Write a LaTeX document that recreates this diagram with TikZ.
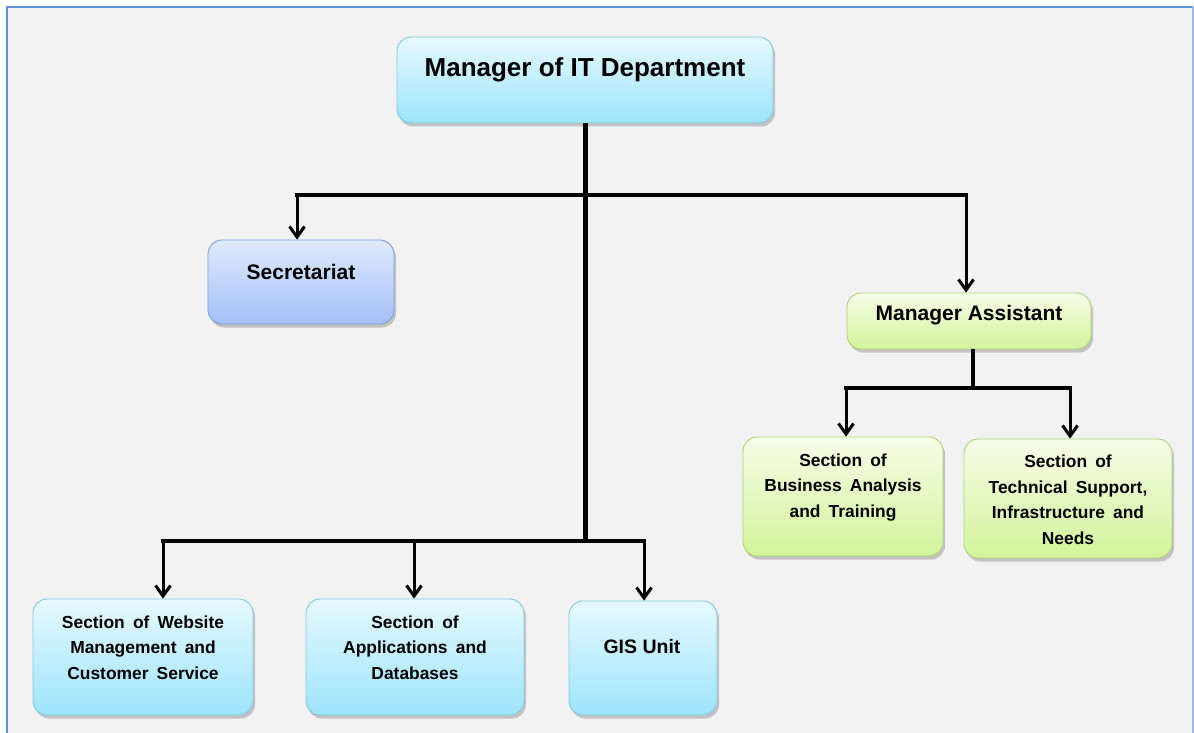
\documentclass[tikz,border=0pt]{standalone}
\usepackage{fontspec}
\setmainfont{Liberation Sans}
\usetikzlibrary{arrows.meta,shadows}

\definecolor{pagebg}{HTML}{F2F2F2}
\definecolor{framelc}{HTML}{5F92D8}
\definecolor{framerc}{HTML}{9DBBE6}
\definecolor{blueT}{HTML}{E6F9FE}
\definecolor{blueB}{HTML}{9DE4FB}
\definecolor{blueL}{HTML}{84C8E0}
\definecolor{secT}{HTML}{E0EAFC}
\definecolor{secB}{HTML}{A3C0F7}
\definecolor{secL}{HTML}{7C9ED8}
\definecolor{grnT}{HTML}{F6FDE8}
\definecolor{grnB}{HTML}{D3F39A}
\definecolor{grnL}{HTML}{AAD47A}

% wide word gap used in the section boxes
\newcommand{\wsp}{\hspace{0.47em}}

\tikzset{
  box/.style={rounded corners=14pt, line width=0.9pt, inner sep=0pt,
    drop shadow={shadow xshift=2pt, shadow yshift=-3.5pt, opacity=0.28, fill=black!70}},
  bluebox/.style={box, draw=blueL, top color=blueT, bottom color=blueB},
  secbox/.style={box, draw=secL, top color=secT, bottom color=secB},
  grnbox/.style={box, draw=grnL, top color=grnT, bottom color=grnB},
  lbl/.style={inner sep=0pt, align=center, text=black},
  bigtxt/.style={lbl, font=\bfseries\fontsize{26}{31}\selectfont},
  midtxt/.style={lbl, font=\bfseries\fontsize{21}{25}\selectfont},
  smalltxt/.style={lbl, anchor=north, font=\bfseries\fontsize{17.4}{25.5}\selectfont},
  lineshadow/.style={preaction={draw=black!22, transform canvas={shift={(1.2pt,-1.6pt)}}}},
  trunk/.style={line width=5pt, lineshadow},
  bus/.style={line width=4pt, line cap=rect, lineshadow},
  arr/.style={line width=3pt, lineshadow, -{Straight Barb[length=10.5pt,width=15pt]}},
}

\begin{document}
\begin{tikzpicture}[x=1pt,y=-1pt]
\useasboundingbox (0,0) rectangle (1194,733);
% page and frame
\fill[white] (0,0) rectangle (1194,733);
\fill[pagebg] (7,7) rectangle (1193,733);
\draw[framelc, line width=2pt] (7,733) -- (7,7) -- (1193,7);
\draw[framerc, line width=2pt] (1193,7) -- (1193,733);

% boxes
\node[bluebox, minimum width=376pt, minimum height=86pt] (top) at (585,80) {};
\node[secbox, minimum width=186pt, minimum height=84pt] (sec) at (301,282) {};
\node[grnbox, minimum width=244pt, minimum height=56pt] (ma) at (969,321) {};
\node[grnbox, minimum width=200pt, minimum height=119pt] (ba) at (843,496.5) {};
\node[grnbox, minimum width=208pt, minimum height=119pt] (ts) at (1068,498.5) {};
\node[bluebox, minimum width=220pt, minimum height=116pt] (web) at (143,657) {};
\node[bluebox, minimum width=218pt, minimum height=116pt] (app) at (415,657) {};
\node[bluebox, minimum width=148pt, minimum height=114pt] (gis) at (643,658) {};

% labels
\node[bigtxt] (top-t) at (585,70) {Manager of IT Department};
\node[midtxt] (sec-t) at (301,271.5) {Secretariat};
\node[midtxt] (ma-t) at (969,315.5) {Manager Assistant};
\node[smalltxt] (ba-t) at (843,453.5) {Section\wsp of\\Business\wsp Analysis\\and\wsp Training};
\node[smalltxt] (ts-t) at (1068,455) {Section\wsp of\\Technical\wsp Support,\\Infrastructure\wsp and\\Needs};
\node[smalltxt] (web-t) at (143,615.5) {Section\wsp of\wsp Website\\Management\wsp and\\Customer\wsp Service};
\node[smalltxt] (app-t) at (415,615.5) {Section\wsp of\\Applications\wsp and\\Databases};
\node[midtxt, font=\bfseries\fontsize{19.5}{23}\selectfont] (gis-t) at (642,647) {GIS Unit};

% junction points
\coordinate (ul) at (297,195);
\coordinate (ur) at (966,195);
\coordinate (lc) at (585,541);
\coordinate (ll) at (163,541);
\coordinate (lm) at (414,541);
\coordinate (lr) at (644,541);
\coordinate (mc) at (973,388);
\coordinate (ml) at (846,388);
\coordinate (mr) at (1070,388);

% connectors from the top manager
\draw[trunk] (top.south) -- (lc);
\draw[bus] (ul) -- (ur);
\draw[arr] (ul) -- (ul |- sec.north);
\draw[arr] (ur) -- (ur |- ma.north);
\draw[bus, line width=3.5pt] (ll) -- (lr);
\draw[arr] (ll) -- (ll |- web.north);
\draw[arr] (lm) -- (lm |- app.north);
\draw[arr] (lr) -- (lr |- gis.north);

% connectors from the manager assistant
\draw[trunk, line width=4pt] (ma.south -| mc) -- (mc);
\draw[bus] (ml) -- (mr);
\draw[arr] (ml) -- (ml |- ba.north);
\draw[arr] (mr) -- (mr |- ts.north);
\end{tikzpicture}
\end{document}
